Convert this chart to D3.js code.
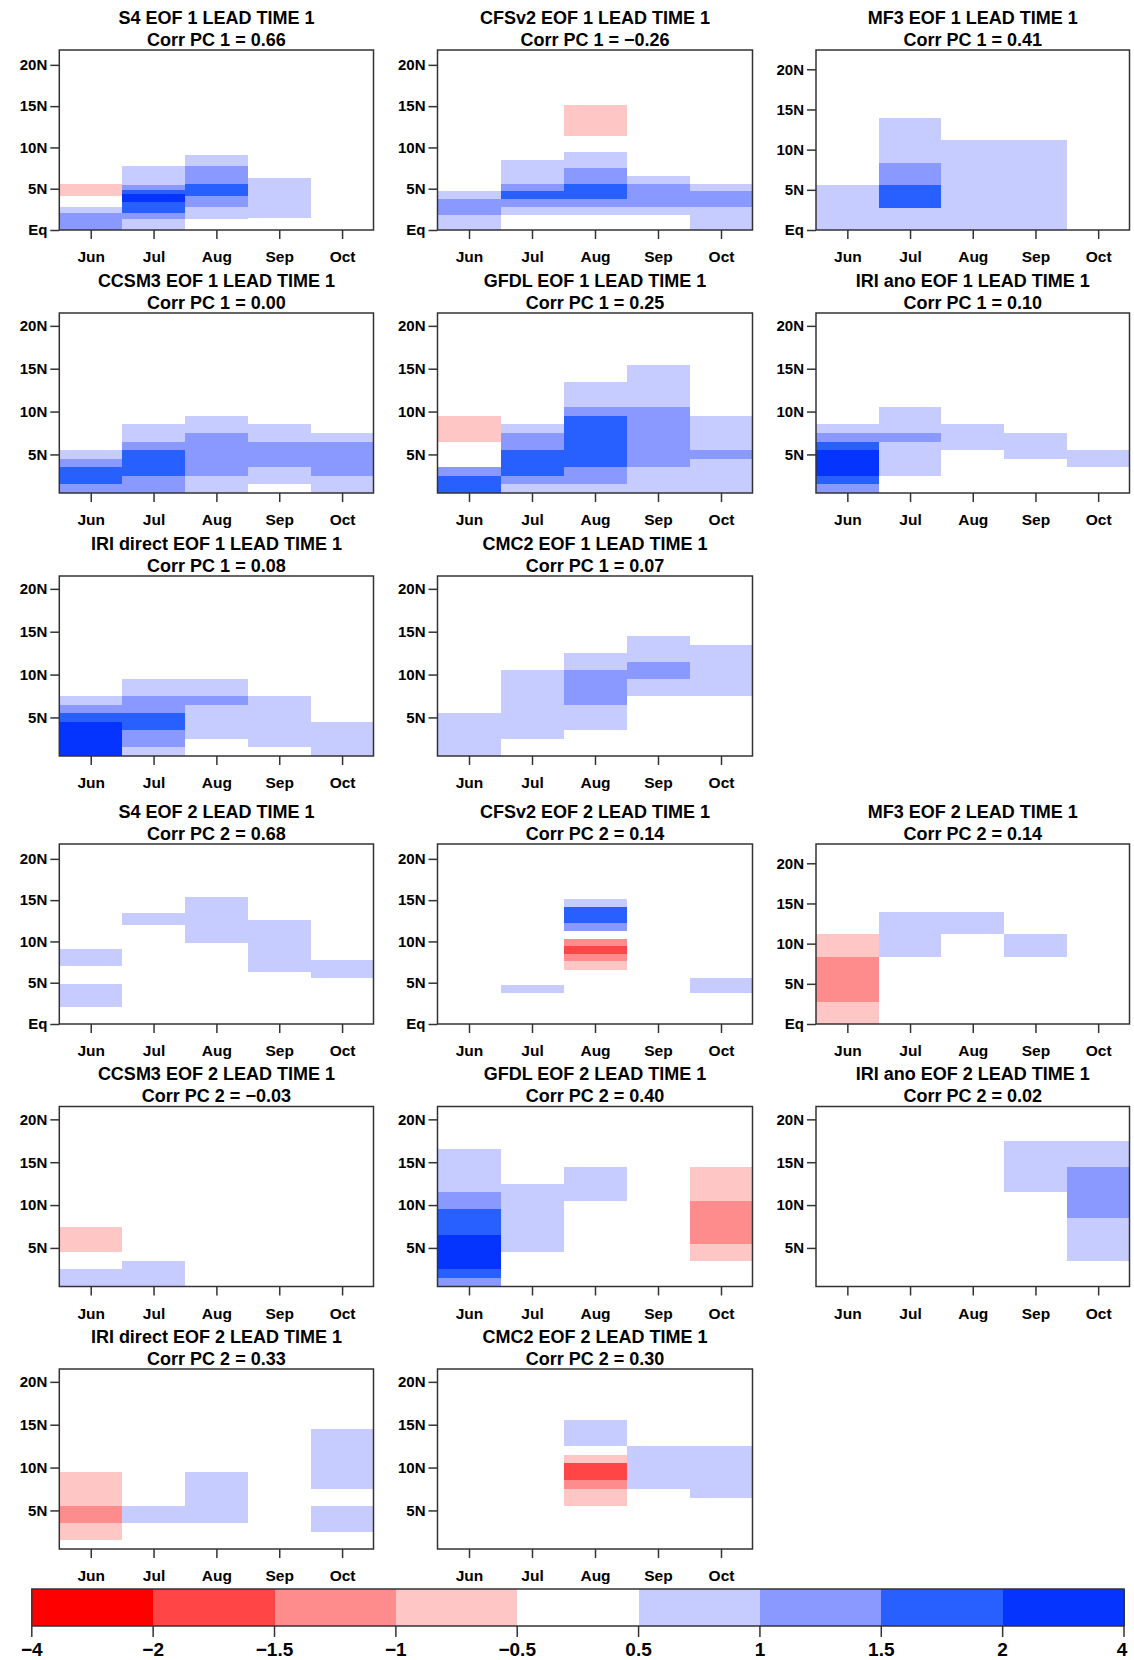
<!DOCTYPE html>
<html><head><meta charset="utf-8">
<script src="https://cdn.jsdelivr.net/npm/d3@7"></script>
<style>
body{margin:0;background:#fff}
svg{display:block}
text{font-family:"Liberation Sans",Arial,Helvetica,sans-serif;font-weight:bold;fill:#000}
</style>
</head><body><svg id="c" width="1134" height="1660"></svg>
<script>
// ---------- data ----------
const months = ["Jun","Jul","Aug","Sep","Oct"];
const breaks = [-4,-2,-1.5,-1,-0.5,0.5,1,1.5,2,4];
const breakLabels = ["\u22124","\u22122","\u22121.5","\u22121","\u22120.5","0.5","1","1.5","2","4"];
const colors = ["#FF0000","#FF4545","#FF8C8C","#FFC6C6","#FFFFFF","#C6CCFF","#8A99FF","#2760FF","#0533FF"];
const latTicks = [0,5,10,15,20];
const latDomains = {S4:[0,21.8], CFSv2:[0,21.8], MF3:[0,22.4], CCSM3:[0.5,21.5], GFDL:[0.5,21.5], "IRI ano":[0.5,21.5], "IRI direct":[0.5,21.5], CMC2:[0.5,21.5]};

const panelModels = ["S4","CFSv2","MF3","CCSM3","GFDL","IRI ano","IRI direct","CMC2",
                     "S4","CFSv2","MF3","CCSM3","GFDL","IRI ano","IRI direct","CMC2"];
const panelEof    = [1,1,1,1,1,1,1,1, 2,2,2,2,2,2,2,2];
const panelCorr   = ["0.66","\u22120.26","0.41","0.00","0.25","0.10","0.08","0.07",
                     "0.68","0.14","0.14","\u22120.03","0.40","0.02","0.33","0.30"];

// cells: [month (1=Jun..5=Oct), latFrom, latTo, value]
const s4e1 = [
 [1,0,2.0,1.25],[1,2.0,2.8,0.75],[1,4.1,5.6,-0.75],
 [2,0,1.3,0.75],[2,1.3,2.0,1.25],[2,2.0,3.4,1.75],[2,3.4,4.3,3],[2,4.3,4.8,1.75],[2,4.8,5.5,1.25],[2,5.5,7.7,0.75],
 [3,1.3,2.8,0.75],[3,2.8,4.1,1.25],[3,4.1,5.6,1.75],[3,5.6,7.7,1.25],[3,7.7,9.1,0.75],
 [4,1.4,6.3,0.75]
];
const cfse1 = [
 [1,0,1.8,0.75],[1,1.8,3.7,1.25],[1,3.7,4.7,0.75],
 [2,1.8,2.8,0.75],[2,2.8,3.7,1.25],[2,3.7,4.7,1.75],[2,4.7,5.6,1.25],[2,5.6,8.5,0.75],
 [3,1.8,2.8,0.75],[3,2.8,3.7,1.25],[3,3.7,5.6,1.75],[3,5.6,7.5,1.25],[3,7.5,9.4,0.75],[3,11.4,15.1,-0.75],
 [4,1.8,2.8,0.75],[4,2.8,5.6,1.25],[4,5.6,6.6,0.75],
 [5,0,2.8,0.75],[5,2.8,4.7,1.25],[5,4.7,5.6,0.75]
];
const mf3e1 = [
 [1,0,5.6,0.75],
 [2,0,2.8,0.75],[2,2.8,5.6,1.75],[2,5.6,8.4,1.25],[2,8.4,14.0,0.75],
 [3,0,11.2,0.75],
 [4,0,11.2,0.75]
];
const ccsme1 = [
 [1,0.5,1.5,1.25],[1,1.5,3.5,1.75],[1,3.5,4.5,1.25],[1,4.5,5.5,0.75],
 [2,0.5,2.5,1.25],[2,2.5,5.5,1.75],[2,5.5,6.5,1.25],[2,6.5,8.5,0.75],
 [3,0.5,2.5,0.75],[3,2.5,7.5,1.25],[3,7.5,9.5,0.75],
 [4,1.5,3.5,0.75],[4,3.5,6.5,1.25],[4,6.5,8.5,0.75],
 [5,0.5,2.5,0.75],[5,2.5,6.5,1.25],[5,6.5,7.5,0.75]
];
const gfdle1 = [
 [1,0.5,2.5,1.75],[1,2.5,3.5,1.25],[1,6.5,9.5,-0.75],
 [2,0.5,1.5,0.75],[2,1.5,2.5,1.25],[2,2.5,5.5,1.75],[2,5.5,7.5,1.25],[2,7.5,8.5,0.75],
 [3,0.5,1.5,0.75],[3,1.5,3.5,1.25],[3,3.5,9.5,1.75],[3,9.5,10.5,1.25],[3,10.5,13.5,0.75],
 [4,0.5,3.5,0.75],[4,3.5,10.5,1.25],[4,10.5,15.4,0.75],
 [5,0.5,4.5,0.75],[5,4.5,5.5,1.25],[5,5.5,9.5,0.75]
];
const irianoe1 = [
 [1,0.5,1.5,1.25],[1,1.5,2.5,1.75],[1,2.5,5.5,3],[1,5.5,6.5,1.75],[1,6.5,7.5,1.25],[1,7.5,8.5,0.75],
 [2,2.5,6.5,0.75],[2,6.5,7.5,1.25],[2,7.5,10.5,0.75],
 [3,5.5,8.5,0.75],
 [4,4.5,7.5,0.75],
 [5,3.5,5.5,0.75]
];
const iridire1 = [
 [1,0.5,4.5,3],[1,4.5,5.5,1.75],[1,5.5,6.5,1.25],[1,6.5,7.5,0.75],
 [2,0.5,1.5,0.75],[2,1.5,3.5,1.25],[2,3.5,5.5,1.75],[2,5.5,7.5,1.25],[2,7.5,9.5,0.75],
 [3,2.5,6.5,0.75],[3,6.5,7.5,1.25],[3,7.5,9.5,0.75],
 [4,1.5,7.5,0.75],
 [5,0.5,4.5,0.75]
];
const cmce1 = [
 [1,0.5,5.5,0.75],
 [2,2.5,10.5,0.75],
 [3,3.5,6.5,0.75],[3,6.5,10.5,1.25],[3,10.5,12.5,0.75],
 [4,7.5,9.5,0.75],[4,9.5,11.5,1.25],[4,11.5,14.5,0.75],
 [5,7.5,13.5,0.75]
];
const s4e2 = [
 [1,2.1,4.9,0.75],[1,7.0,9.1,0.75],
 [2,12.0,13.4,0.75],
 [3,9.8,15.4,0.75],
 [4,6.3,12.6,0.75],
 [5,5.6,7.7,0.75]
];
const cfse2 = [
 [2,3.8,4.7,0.75],
 [3,6.6,7.6,-0.75],[3,7.6,8.5,-1.25],[3,8.5,9.4,-1.75],[3,9.4,10.3,-1.25],
 [3,11.3,12.2,1.25],[3,12.2,14.2,1.75],[3,14.2,15.1,0.75],
 [5,3.8,5.6,0.75]
];
const mf3e2 = [
 [1,0,2.8,-0.75],[1,2.8,8.4,-1.25],[1,8.4,11.2,-0.75],
 [2,8.4,14.0,0.75],
 [3,11.2,14.0,0.75],
 [4,8.4,11.2,0.75]
];
const ccsme2 = [
 [1,0.5,2.5,0.75],[1,4.5,7.5,-0.75],
 [2,0.5,3.5,0.75]
];
const gfdle2 = [
 [1,0.5,1.5,1.25],[1,1.5,2.5,1.75],[1,2.5,6.5,3],[1,6.5,9.5,1.75],[1,9.5,11.5,1.25],[1,11.5,16.5,0.75],
 [2,4.5,12.5,0.75],
 [3,10.5,14.5,0.75],
 [5,3.5,5.5,-0.75],[5,5.5,10.5,-1.25],[5,10.5,14.5,-0.75]
];
const irianoe2 = [
 [4,11.5,17.5,0.75],
 [5,3.5,8.5,0.75],[5,8.5,14.5,1.25],[5,14.5,17.5,0.75]
];
const iridire2 = [
 [1,1.5,3.5,-0.75],[1,3.5,5.5,-1.25],[1,5.5,9.5,-0.75],
 [2,3.5,5.5,0.75],
 [3,3.5,9.5,0.75],
 [5,2.5,5.5,0.75],[5,7.5,14.5,0.75]
];
const cmce2 = [
 [3,5.5,7.5,-0.75],[3,7.5,8.5,-1.25],[3,8.5,10.5,-1.75],[3,10.5,11.5,-0.75],[3,12.5,15.5,0.75],
 [4,7.5,12.5,0.75],
 [5,6.5,12.5,0.75]
];
const panelCells = [s4e1,cfse1,mf3e1,ccsme1,gfdle1,irianoe1,iridire1,cmce1,
                    s4e2,cfse2,mf3e2,ccsme2,gfdle2,irianoe2,iridire2,cmce2];

// ---------- layout ----------
const colX = [[59.3,373.5],[437.5,752.5],[816,1129.5]];
const rowY = [50,313,576,844,1106.5,1369];
const boxH = 180;
const slots = [[0,0],[0,1],[0,2],[1,0],[1,1],[1,2],[2,0],[2,1],
               [3,0],[3,1],[3,2],[4,0],[4,1],[4,2],[5,0],[5,1]];

const svg = d3.select("#c");
const color = d3.scaleThreshold().domain(breaks.slice(1,-1)).range(colors);

panelModels.forEach((model,i) => {
  const [r,c] = slots[i];
  const x0 = colX[c][0], x1 = colX[c][1];
  const y0 = rowY[r], y1 = rowY[r] + boxH;
  const dom = latDomains[model];
  const xs = d3.scaleLinear().domain([0.5,5.5]).range([x0,x1]);
  const ys = d3.scaleLinear().domain(dom).range([y1,y0]);
  const g = svg.append("g");

  g.append("g").selectAll("rect").data(panelCells[i]).join("rect")
    .attr("x", d => xs(d[0]-0.5))
    .attr("width", d => xs(d[0]+0.5) - xs(d[0]-0.5))
    .attr("y", d => ys(Math.min(d[2], dom[1])))
    .attr("height", d => ys(Math.max(d[1], dom[0])) - ys(Math.min(d[2], dom[1])))
    .attr("fill", d => color(d[3]))
    .attr("shape-rendering","crispEdges");

  const xa = g.append("g").attr("transform",`translate(0,${y1})`)
    .call(d3.axisBottom(xs).tickValues([1,2,3,4,5]).tickFormat(d => months[d-1]).tickSize(9).tickPadding(12));
  xa.select(".domain").remove();
  xa.selectAll("line").attr("stroke","#333").attr("stroke-width",1.5);
  xa.selectAll("text").attr("font-size","15.5px").attr("fill","#000");

  const yt = latTicks.filter(t => t >= dom[0] && t <= dom[1]);
  const ya = g.append("g").attr("transform",`translate(${x0},0)`)
    .call(d3.axisLeft(ys).tickValues(yt).tickFormat(d => d === 0 ? "Eq" : d + "N").tickSize(9).tickPadding(3));
  ya.select(".domain").remove();
  ya.selectAll("line").attr("stroke","#333").attr("stroke-width",1.5);
  ya.selectAll("text").attr("font-size","15px").attr("fill","#000");

  g.append("rect").attr("x",x0).attr("y",y0).attr("width",x1-x0).attr("height",boxH)
    .attr("fill","none").attr("stroke","#333").attr("stroke-width",1.5);

  const cx = (x0+x1)/2;
  g.append("text").attr("x",cx).attr("y",y0-26.5).attr("text-anchor","middle").attr("font-size","18px")
    .text(`${model} EOF ${panelEof[i]} LEAD TIME 1`);
  g.append("text").attr("x",cx).attr("y",y0-4.5).attr("text-anchor","middle").attr("font-size","18px")
    .text(`Corr PC ${panelEof[i]} = ${panelCorr[i]}`);
});

// ---------- colour bar ----------
const cbX = d3.scaleLinear().domain([0, colors.length]).range([31.8, 1124]);
const cbY0 = 1589, cbY1 = 1626;
const cb = svg.append("g");
cb.selectAll("rect").data(colors).join("rect")
  .attr("x",(d,i)=>cbX(i)).attr("width",(d,i)=>cbX(i+1)-cbX(i)+0.5)
  .attr("y",cbY0).attr("height",cbY1-cbY0).attr("fill",d=>d).attr("shape-rendering","crispEdges");
cb.append("rect").attr("x",cbX(0)).attr("y",cbY0).attr("width",cbX(colors.length)-cbX(0)).attr("height",cbY1-cbY0)
  .attr("fill","none").attr("stroke","#333").attr("stroke-width",1.5);
cb.selectAll("line.t").data(breakLabels).join("line")
  .attr("x1",(d,i)=>cbX(i)).attr("x2",(d,i)=>cbX(i)).attr("y1",cbY1).attr("y2",cbY1+11)
  .attr("stroke","#333").attr("stroke-width",1.5);
cb.selectAll("text").data(breakLabels).join("text")
  .attr("x",(d,i)=>Math.min(Math.max(cbX(i),12),1122)).attr("y",1656).attr("text-anchor","middle").attr("font-size","19px").text(d=>d);
</script>
</body></html>
